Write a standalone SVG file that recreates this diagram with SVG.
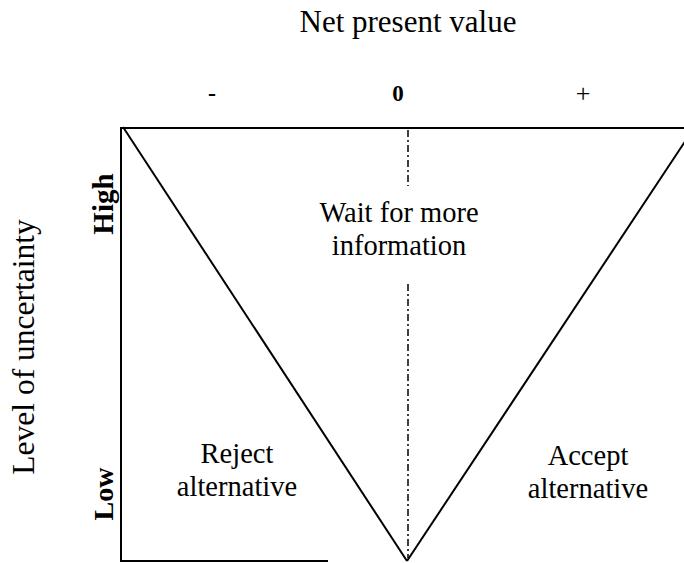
<svg xmlns="http://www.w3.org/2000/svg" width="684" height="563" viewBox="0 0 684 563">
  <style>
    .big { font-size: 31px; }
    .mid { font-size: 28.5px; }
    .b { font-weight: bold; }
    .ln { stroke: #000; stroke-width: 2; fill: none; }
    .dd { stroke: #000; stroke-width: 1.5; fill: none; stroke-dasharray: 7 3 2 3; }
  </style>
  <rect width="684" height="563" fill="#fff"/>

  <g font-family="Liberation Serif, Times New Roman, serif" fill="#000">
    <!-- axis titles -->
    <g id="axis-x-title">
      <text class="big" x="408" y="32" text-anchor="middle">Net present value</text>
    </g>
    <g id="axis-y-title">
      <text font-size="31.5" transform="translate(34,347) rotate(-90)" text-anchor="middle">Level of uncertainty</text>
    </g>

    <!-- scale marks -->
    <g id="npv-scale">
      <text class="b" font-size="24" x="212" y="101" text-anchor="middle">-</text>
      <text class="b" font-size="23" x="398" y="101" text-anchor="middle">0</text>
      <text font-size="26" x="583" y="102" text-anchor="middle">+</text>
    </g>
    <g id="uncertainty-scale">
      <text class="b" font-size="29" transform="translate(113,204) rotate(-90)" text-anchor="middle">High</text>
      <text class="b" font-size="28" transform="translate(113,494) rotate(-90)" text-anchor="middle">Low</text>
    </g>

    <!-- region labels -->
    <g id="region-wait">
      <text class="mid" x="399" y="222" text-anchor="middle">Wait for more</text>
      <text class="mid" x="399" y="255" text-anchor="middle">information</text>
    </g>
    <g id="region-reject">
      <text class="mid" x="237" y="463" text-anchor="middle">Reject</text>
      <text class="mid" x="237" y="496" text-anchor="middle">alternative</text>
    </g>
    <g id="region-accept">
      <text class="mid" x="588" y="465" text-anchor="middle">Accept</text>
      <text class="mid" x="588" y="498" text-anchor="middle">alternative</text>
    </g>
  </g>

  <!-- frame, wedge and zero line -->
  <g id="connectors">
    <polyline class="ln" points="684,128 121,128 121,561 328,561"/>
    <line class="ln" x1="123" y1="127" x2="407" y2="561"/>
    <line class="ln" x1="407" y1="561" x2="688" y2="137"/>
    <line class="dd" x1="408" y1="130" x2="408" y2="186"/>
    <line class="dd" x1="408" y1="284" x2="408" y2="558"/>
  </g>
</svg>
